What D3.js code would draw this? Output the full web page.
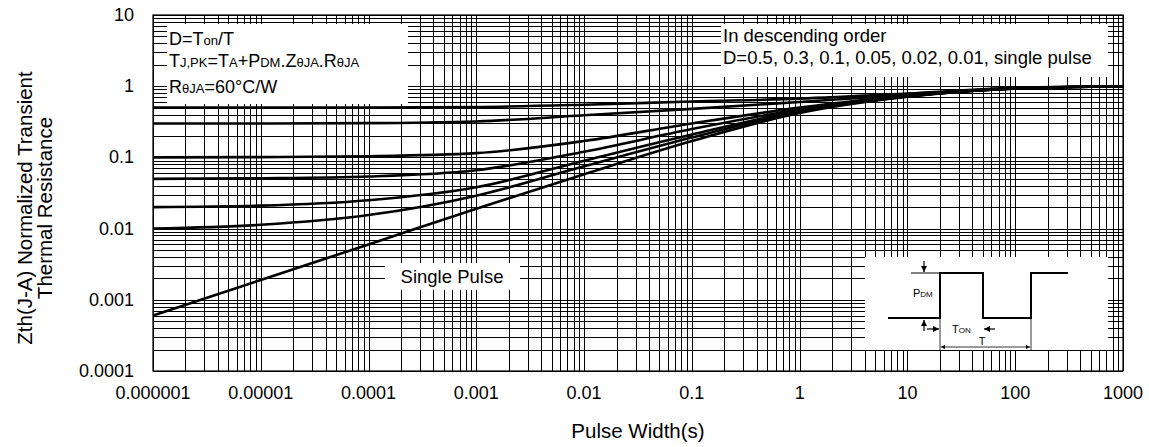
<!DOCTYPE html>
<html>
<head>
<meta charset="utf-8">
<script src="https://cdn.jsdelivr.net/npm/d3@7"></script>
<style>
  body { margin: 0; background: #fff; }
  text { font-family: "Liberation Sans", Arial, sans-serif; fill: #000; }
</style>
</head>
<body>
<div id="chart"></div>
<script>
// pulse width (s) and normalized Zth
const pulseWidth = [1e-6, 1e-5, 1e-4, 1e-3, 1e-2, 1e-1, 1, 10, 100, 1000];
const zD05    = [0.5, 0.5, 0.5, 0.51, 0.55, 0.61, 0.67, 0.79, 0.95, 1.0];
const zD03    = [0.3, 0.3, 0.303, 0.32, 0.39, 0.48, 0.6, 0.76, 0.94, 1.0];
const zD01    = [0.1, 0.101, 0.104, 0.115, 0.17, 0.3, 0.5, 0.74, 0.93, 1.0];
const zD005   = [0.05, 0.051, 0.054, 0.066, 0.12, 0.25, 0.47, 0.73, 0.93, 1.0];
const zD002   = [0.02, 0.021, 0.025, 0.038, 0.09, 0.21, 0.45, 0.72, 0.93, 1.0];
const zD001   = [0.01, 0.0113, 0.0155, 0.029, 0.075, 0.19, 0.44, 0.72, 0.93, 1.0];
const zSingle = [0.0006, 0.0019, 0.006, 0.019, 0.058, 0.17, 0.42, 0.71, 0.93, 1.0];

const xTicks = [1e-6, 1e-5, 1e-4, 1e-3, 1e-2, 1e-1, 1, 10, 100, 1000];
const xTickLabels = ["0.000001", "0.00001", "0.0001", "0.001", "0.01", "0.1", "1", "10", "100", "1000"];
const yTicks = [0.0001, 0.001, 0.01, 0.1, 1, 10];
const yTickLabels = ["0.0001", "0.001", "0.01", "0.1", "1", "10"];

const W = 1149, H = 447;
const pL = 153, pR = 1123, pT = 15, pB = 371;

const svg = d3.select("#chart").append("svg")
  .attr("width", W)
  .attr("height", H);

const x = d3.scaleLog().domain([1e-6, 1000]).range([pL, pR]);
const y = d3.scaleLog().domain([0.0001, 10]).range([pB, pT]);

// grid: every 1..9 in each decade
const xGrid = [];
for (let k = -6; k < 3; k++) for (let m = 1; m < 10; m++) xGrid.push(m * Math.pow(10, k));
xGrid.push(1000);
const yGrid = [];
for (let k = -4; k < 1; k++) for (let m = 1; m < 10; m++) yGrid.push(m * Math.pow(10, k));
yGrid.push(10);

const grid = svg.append("g")
  .attr("stroke", "#000")
  .attr("stroke-width", 1)
  .attr("shape-rendering", "crispEdges");
grid.selectAll(".vx").data(xGrid).enter().append("line")
  .attr("x1", d => Math.round(x(d)) + 0.5).attr("x2", d => Math.round(x(d)) + 0.5)
  .attr("y1", pT).attr("y2", pB);
grid.selectAll(".hy").data(yGrid).enter().append("line")
  .attr("y1", d => Math.round(y(d)) + 0.5).attr("y2", d => Math.round(y(d)) + 0.5)
  .attr("x1", pL).attr("x2", pR);

svg.append("rect")
  .attr("x", pL).attr("y", pT)
  .attr("width", pR - pL).attr("height", pB - pT)
  .attr("fill", "none").attr("stroke", "#000").attr("stroke-width", 1.2);

// white label boxes over the grid
const boxes = [
  [167, 24, 241, 80],
  [721, 24, 387, 53],
  [385, 263, 135, 27],
  [865, 257, 243, 93]
];
svg.selectAll(".box").data(boxes).enter().append("rect")
  .attr("x", d => d[0]).attr("y", d => d[1])
  .attr("width", d => d[2]).attr("height", d => d[3])
  .attr("fill", "#fff");

// curves
const series = [zD05, zD03, zD01, zD005, zD002, zD001, zSingle];
const line = d3.line()
  .x(d => x(d[0]))
  .y(d => y(d[1]))
  .curve(d3.curveMonotoneX);
svg.selectAll(".curve").data(series).enter().append("path")
  .attr("d", s => line(pulseWidth.map((t, i) => [t, s[i]])))
  .attr("fill", "none")
  .attr("stroke", "#000")
  .attr("stroke-width", 2.6);

// axes labels
svg.selectAll(".xt").data(xTicks).enter().append("text")
  .attr("x", d => x(d))
  .attr("y", 399)
  .attr("text-anchor", "middle")
  .attr("font-size", 18)
  .text((d, i) => xTickLabels[i]);

svg.selectAll(".yt").data(yTicks).enter().append("text")
  .attr("x", 134)
  .attr("y", d => y(d) + 6)
  .attr("text-anchor", "end")
  .attr("font-size", 18)
  .text((d, i) => yTickLabels[i]);

svg.append("text")
  .attr("x", (pL + pR) / 2).attr("y", 438)
  .attr("text-anchor", "middle")
  .attr("font-size", 20.5)
  .text("Pulse Width(s)");

const yTitle = svg.append("text")
  .attr("transform", "translate(0,208) rotate(-90)")
  .attr("text-anchor", "middle")
  .attr("font-size", 20.5);
yTitle.append("tspan").attr("x", 0).attr("y", 32).text("Zth(J-A) Normalized Transient");
yTitle.append("tspan").attr("x", 0).attr("y", 52).text("Thermal Resistance");

// text with subscripts
function richText(g, xx, yy, parts, size, subSize) {
  const t = g.append("text").attr("x", xx).attr("y", yy).attr("font-size", size);
  parts.forEach(p => {
    const sp = t.append("tspan").text(p[0]);
    if (p[1]) sp.attr("font-size", subSize);
  });
  return t;
}

richText(svg, 169, 45, [["D=T"], ["on", 1], ["/T"]], 18, 13);
richText(svg, 169, 67, [["T"], ["J,PK", 1], ["=T"], ["A", 1], ["+P"], ["DM", 1], [".Z"], ["θJA", 1], [".R"], ["θJA", 1]], 18, 13);
richText(svg, 169, 93, [["R"], ["θJA", 1], ["=60°C/W"]], 18, 13);

svg.append("text").attr("x", 723).attr("y", 42).attr("font-size", 18.5).text("In descending order");
svg.append("text").attr("x", 723).attr("y", 64).attr("font-size", 18.5).text("D=0.5, 0.3, 0.1, 0.05, 0.02, 0.01, single pulse");

svg.append("text").attr("x", 452).attr("y", 283).attr("text-anchor", "middle").attr("font-size", 18.5).text("Single Pulse");

// pulse schematic inset
const defs = svg.append("defs");
defs.append("marker")
  .attr("id", "ah")
  .attr("viewBox", "0 0 10 10")
  .attr("refX", 10).attr("refY", 5)
  .attr("markerWidth", 5).attr("markerHeight", 5)
  .attr("orient", "auto-start-reverse")
  .append("path").attr("d", "M0,0 L10,5 L0,10 z").attr("fill", "#000");

const inset = svg.append("g").attr("fill", "none").attr("stroke", "#000");
inset.append("path").attr("d", "M888,318 H940 V273 H983 V318 H1031 V273 H1068").attr("stroke-width", 2);
inset.append("path").attr("d", "M911,273 H940").attr("stroke-width", 1);
inset.append("path").attr("d", "M924,261 V272").attr("stroke-width", 1.2).attr("marker-end", "url(#ah)");
inset.append("path").attr("d", "M924,331 V320").attr("stroke-width", 1.2).attr("marker-end", "url(#ah)");
inset.append("path").attr("d", "M927,329 H939").attr("stroke-width", 1.2).attr("marker-end", "url(#ah)");
inset.append("path").attr("d", "M995,329 H984").attr("stroke-width", 1.2).attr("marker-end", "url(#ah)");
inset.append("path").attr("d", "M940,318 V350 M1031,318 V350").attr("stroke-width", 0.8);
inset.append("path").attr("d", "M941,347 H1030").attr("stroke-width", 0.8)
  .attr("marker-start", "url(#ah)").attr("marker-end", "url(#ah)");

richText(svg, 913, 297, [["P"], ["DM", 1]], 11, 8);
richText(svg, 952, 333, [["T"], ["ON", 1]], 11, 8);
svg.append("text").attr("x", 982).attr("y", 345).attr("text-anchor", "middle").attr("font-size", 11).text("T");
</script>
</body>
</html>
